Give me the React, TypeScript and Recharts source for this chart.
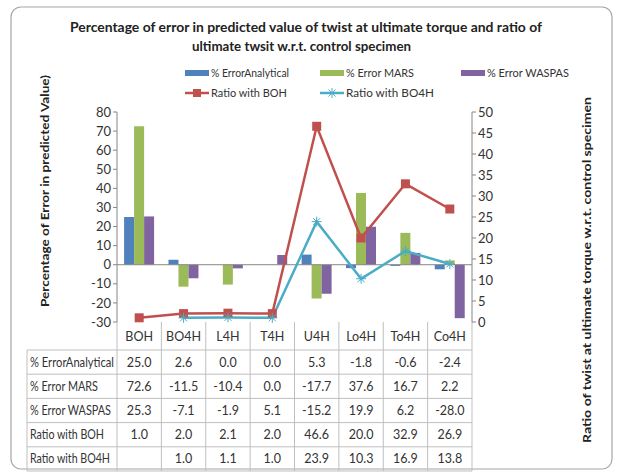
import React from "react";
import { ComposedChart, Bar, Line, XAxis, YAxis, ReferenceLine, Legend } from "recharts";

const categories = ["BOH", "BO4H", "L4H", "T4H", "U4H", "Lo4H", "To4H", "Co4H"];
const errorAnalytical = [25.0, 2.6, 0.0, 0.0, 5.3, -1.8, -0.6, -2.4];
const errorMars = [72.6, -11.5, -10.4, 0.0, -17.7, 37.6, 16.7, 2.2];
const errorWaspas = [25.3, -7.1, -1.9, 5.1, -15.2, 19.9, 6.2, -28.0];
const ratioBoh = [1.0, 2.0, 2.1, 2.0, 46.6, 20.0, 32.9, 26.9];
const ratioBo4h: (number | null)[] = [null, 1.0, 1.1, 1.0, 23.9, 10.3, 16.9, 13.8];
const leftTicks = [-30, -20, -10, 0, 10, 20, 30, 40, 50, 60, 70, 80];
const rightTicks = [0, 5, 10, 15, 20, 25, 30, 35, 40, 45, 50];

const C = {
  analytical: "#4F81BD",
  mars: "#9BBB59",
  waspas: "#8064A2",
  boh: "#C0504D",
  bo4h: "#4BACC6",
  axis: "#868686",
  text: "#333333",
  grid: "#bfbfbf",
};

const FONT = "Lato, 'Open Sans', sans-serif";
const W = 621;
const H = 472;
const PLOT = { left: 117, right: 472, top: 112, bottom: 322 };
const COL_W = (PLOT.right - PLOT.left) / categories.length;

const data = categories.map((cat, i) => ({
  cat,
  analytical: errorAnalytical[i],
  mars: errorMars[i],
  waspas: errorWaspas[i],
  boh: ratioBoh[i],
  bo4h: ratioBo4h[i],
}));

const tableRows = [
  { label: "% ErrorAnalytical", values: errorAnalytical, len: 84 },
  { label: "% Error MARS", values: errorMars, len: 68 },
  { label: "% Error WASPAS", values: errorWaspas, len: 81 },
  { label: "Ratio with BOH", values: ratioBoh, len: 74 },
  { label: "Ratio with BO4H", values: ratioBo4h, len: 80 },
];

function SquareDot(props: { cx?: number; cy?: number; value?: number | null }) {
  const { cx, cy, value } = props;
  if (cx == null || cy == null || value == null) return null;
  return <rect x={cx - 4.5} y={cy - 4.5} width={9} height={9} fill={C.boh} />;
}

function StarDot(props: { cx?: number; cy?: number; value?: number | null }) {
  const { cx, cy, value } = props;
  if (cx == null || cy == null || value == null) return null;
  const r = 5;
  return (
    <g stroke={C.bo4h} strokeWidth={1}>
      <line x1={cx - r} y1={cy} x2={cx + r} y2={cy} />
      <line x1={cx - r * 0.7} y1={cy - r * 0.7} x2={cx + r * 0.7} y2={cy + r * 0.7} />
      <line x1={cx - r * 0.7} y1={cy + r * 0.7} x2={cx + r * 0.7} y2={cy - r * 0.7} />
      <line x1={cx} y1={cy - r} x2={cx} y2={cy + r} />
    </g>
  );
}

const legendItems = [
  { name: "% ErrorAnalytical", color: C.analytical, kind: "bar", x: 185, y: 13, len: 78 },
  { name: "% Error MARS", color: C.mars, kind: "bar", x: 320, y: 13, len: 68 },
  { name: "% Error WASPAS", color: C.waspas, kind: "bar", x: 461, y: 13, len: 82 },
  { name: "Ratio with BOH", color: C.boh, kind: "square", x: 185, y: 33, len: 76 },
  { name: "Ratio with BO4H", color: C.bo4h, kind: "star", x: 320, y: 33, len: 88 },
];

function LegendBox() {
  return (
    <svg width={W} height={44} style={{ display: "block" }}>
      {legendItems.map((it) => (
        <g key={it.name}>
          {it.kind === "bar" ? (
            <rect x={it.x} y={it.y - 3} width={24} height={6} fill={it.color} />
          ) : (
            <g>
              <line x1={it.x} y1={it.y} x2={it.x + 24} y2={it.y} stroke={it.color} strokeWidth={2.5} />
              {it.kind === "square" ? (
                <rect x={it.x + 8} y={it.y - 4} width={8} height={8} fill={it.color} />
              ) : (
                <StarDot cx={it.x + 12} cy={it.y} value={1} />
              )}
            </g>
          )}
          <text
            x={it.x + 26}
            y={it.y + 4}
            fontSize={11.5}
            fontFamily={FONT}
            fill={C.text}
            textLength={it.len}
            lengthAdjust="spacingAndGlyphs"
          >
            {it.name}
          </text>
        </g>
      ))}
    </svg>
  );
}

function Backdrop() {
  const headerTop = PLOT.bottom;
  const firstRow = 350;
  const rowH = 24.2;
  const tableBottom = firstRow + rowH * tableRows.length;
  const labelLeft = 27;
  return (
    <svg width={W} height={H} style={{ position: "absolute", left: 0, top: 0 }}>
      <rect x={11} y={7} width={601} height={462} rx={10} fill="#fff" stroke="#a6a6a6" strokeWidth={1.2} />
      <text x={70} y={32} fontSize={14} fontWeight={700} fontFamily={FONT} fill="#222" textLength={472} lengthAdjust="spacingAndGlyphs">
        Percentage of error in predicted value of  twist at ultimate torque and ratio of
      </text>
      <text x={192} y={51} fontSize={14} fontWeight={700} fontFamily={FONT} fill="#222" textLength={219} lengthAdjust="spacingAndGlyphs">
        ultimate twsit  w.r.t. control specimen
      </text>
      <text
        transform="translate(49,191) rotate(-90)"
        textAnchor="middle"
        fontSize={12}
        fontWeight={700}
        fontFamily={FONT}
        fill="#222"
        textLength={232}
        lengthAdjust="spacingAndGlyphs"
      >
        Percentage of Error in predicted Value)
      </text>
      <text
        transform="translate(591,270) rotate(-90)"
        textAnchor="middle"
        fontSize={12}
        fontWeight={700}
        fontFamily={FONT}
        fill="#222"
        textLength={346}
        lengthAdjust="spacingAndGlyphs"
      >
        Ratio of  twist at ultimate torque  w.r.t. control specimen
      </text>

      {/* data table */}
      <g stroke={C.grid} strokeWidth={1}>
        {categories.map((_, i) => (
          <line key={i} x1={PLOT.left + i * COL_W} y1={headerTop} x2={PLOT.left + i * COL_W} y2={tableBottom} />
        ))}
        <line x1={PLOT.right} y1={headerTop} x2={PLOT.right} y2={tableBottom} />
        <line x1={labelLeft} y1={firstRow} x2={labelLeft} y2={tableBottom} />
        {tableRows.map((_, r) => (
          <line key={r} x1={labelLeft} y1={firstRow + r * rowH} x2={PLOT.right} y2={firstRow + r * rowH} />
        ))}
        <line x1={labelLeft} y1={tableBottom} x2={PLOT.right} y2={tableBottom} />
      </g>
      {categories.map((c, i) => (
        <text key={c} x={PLOT.left + (i + 0.5) * COL_W} y={341} textAnchor="middle" fontSize={12.5} fontFamily={FONT} fill={C.text}>
          {c}
        </text>
      ))}
      {tableRows.map((row, r) => (
        <g key={row.label}>
          <text
            x={labelLeft + 3}
            y={firstRow + r * rowH + 16.5}
            fontSize={12.5}
            fontFamily={FONT}
            fill={C.text}
            textLength={row.len}
            lengthAdjust="spacingAndGlyphs"
          >
            {row.label}
          </text>
          {row.values.map((v, i) => (
            <text
              key={i}
              x={PLOT.left + (i + 0.5) * COL_W}
              y={firstRow + r * rowH + 16.5}
              textAnchor="middle"
              fontSize={12.5}
              fontFamily={FONT}
              fill={C.text}
            >
              {v == null ? "" : v.toFixed(1)}
            </text>
          ))}
        </g>
      ))}
    </svg>
  );
}

export default function App() {
  return (
    <div style={{ position: "relative", width: W, height: H, background: "#fff", fontFamily: FONT }}>
      <style>{"body{margin:0}"}</style>
      <Backdrop />
      <div style={{ position: "absolute", left: 0, top: 0 }}>
        <ComposedChart
          width={W}
          height={H}
          data={data}
          margin={{ top: PLOT.top, right: W - PLOT.right - 40, bottom: H - PLOT.bottom, left: PLOT.left - 40 }}
          barCategoryGap="16%"
          barGap={0}
        >
          <XAxis dataKey="cat" xAxisId={0} height={0} tick={false} tickLine={false} axisLine={{ stroke: C.axis }} />
          <YAxis
            yAxisId="left"
            width={40}
            domain={[-30, 80]}
            ticks={leftTicks}
            interval={0}
            tickSize={4}
            axisLine={{ stroke: C.axis }}
            tickLine={{ stroke: C.axis }}
            tick={{ fill: C.text, fontSize: 13, fontFamily: FONT }}
          />
          <YAxis
            yAxisId="right"
            orientation="right"
            width={40}
            domain={[0, 50]}
            ticks={rightTicks}
            interval={0}
            tickSize={4}
            axisLine={{ stroke: C.axis }}
            tickLine={{ stroke: C.axis }}
            tick={{ fill: C.text, fontSize: 13, fontFamily: FONT }}
          />
          <ReferenceLine yAxisId="left" y={0} stroke={C.axis} />
          <Bar yAxisId="left" dataKey="analytical" name="% ErrorAnalytical" fill={C.analytical} isAnimationActive={false} />
          <Bar yAxisId="left" dataKey="mars" name="% Error MARS" fill={C.mars} isAnimationActive={false} />
          <Bar yAxisId="left" dataKey="waspas" name="% Error WASPAS" fill={C.waspas} isAnimationActive={false} />
          <Line
            yAxisId="right"
            dataKey="boh"
            name="Ratio with BOH"
            type="linear"
            stroke={C.boh}
            strokeWidth={2.5}
            dot={<SquareDot />}
            isAnimationActive={false}
          />
          <Line
            yAxisId="right"
            dataKey="bo4h"
            name="Ratio with BO4H"
            type="linear"
            stroke={C.bo4h}
            strokeWidth={2.5}
            dot={<StarDot />}
            isAnimationActive={false}
          />
          <Legend
            layout="horizontal"
            verticalAlign="middle"
            align="center"
            content={() => <LegendBox />}
            wrapperStyle={{ left: 0, top: 60, width: W, height: 44 }}
          />
        </ComposedChart>
      </div>
    </div>
  );
}
